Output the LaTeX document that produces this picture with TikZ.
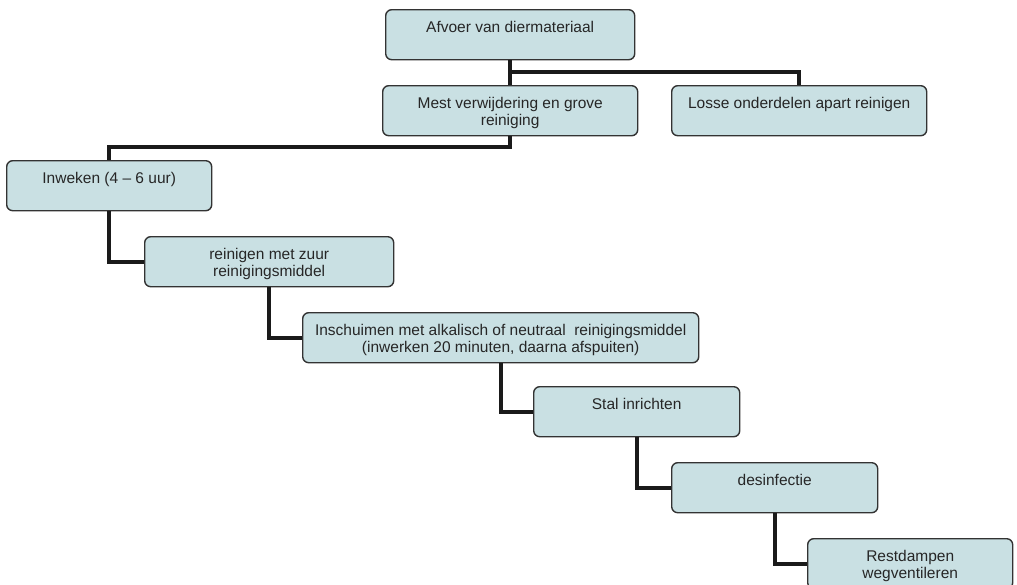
\documentclass[tikz,border=0pt]{standalone}
\usepackage{fontspec}
\setmainfont{Liberation Sans}
\usepackage{tikz}

\definecolor{boxfill}{HTML}{C9E0E3}
\definecolor{boxrand}{HTML}{333333}
\definecolor{lijnkleur}{HTML}{1A1A1A}

\begin{document}
\begin{tikzpicture}[x=1pt, y=-1pt,
  stap/.style={draw=boxrand, fill=boxfill, line width=1.4pt, rounded corners=6pt,
    anchor=north west, minimum height=50pt, inner sep=0pt},
  tekst/.style={anchor=north, align=center, inner sep=0pt, text=black!85,
    font=\fontsize{15.5}{17.5}\selectfont},
  lijn/.style={line width=4pt, lijnkleur}]
  \useasboundingbox (0,0) rectangle (1017,584);
  % boxes
  \node[stap, minimum width=249pt] (afvoer) at (385,9) {};
  \node[stap, minimum width=255pt] (mest) at (382,85) {};
  \node[stap, minimum width=255pt] (losse) at (671,85) {};
  \node[stap, minimum width=205pt] (inweken) at (6,160) {};
  \node[stap, minimum width=249pt] (reinigen) at (144,236) {};
  \node[stap, minimum width=396pt] (schuim) at (302,312) {};
  \node[stap, minimum width=206pt] (stal) at (533,386) {};
  \node[stap, minimum width=206pt] (desinf) at (671,462) {};
  \node[stap, minimum width=205pt] (rest) at (807,538) {};
  % texts
  \node[tekst] (afvoer-t) at ([yshift=-12pt]afvoer.north) {Afvoer van diermateriaal};
  \node[tekst] (mest-t) at ([yshift=-12pt]mest.north) {Mest verwijdering en grove\\reiniging};
  \node[tekst] (losse-t) at ([yshift=-12pt]losse.north) {Losse onderdelen apart reinigen};
  \node[tekst] (inweken-t) at ([yshift=-12pt]inweken.north) {Inweken (4 -- 6 uur)};
  \node[tekst] (reinigen-t) at ([yshift=-12pt]reinigen.north) {reinigen met zuur\\reinigingsmiddel};
  \node[tekst] (schuim-t) at ([yshift=-12pt]schuim.north) {Inschuimen met alkalisch of neutraal\ \ reinigingsmiddel\\(inwerken 20 minuten, daarna afspuiten)};
  \node[tekst] (stal-t) at ([yshift=-12pt]stal.north) {Stal inrichten};
  \node[tekst] (desinf-t) at ([yshift=-12pt]desinf.north) {desinfectie};
  \node[tekst] (rest-t) at ([yshift=-12pt]rest.north) {Restdampen\\wegventileren};
  % connectors
  \draw[lijn] (afvoer.south) -- (mest.north);
  \draw[lijn] (afvoer.south |- 0,72) -| (losse.north);
  \draw[lijn] (mest.south) -- (mest.south |- 0,147) -| (inweken.north);
  \draw[lijn] (inweken.south) |- (reinigen.west);
  \draw[lijn] (reinigen.south) |- (schuim.west);
  \draw[lijn] (schuim.south) |- (stal.west);
  \draw[lijn] (stal.south) |- (desinf.west);
  \draw[lijn] (desinf.south) |- (rest.west);
\end{tikzpicture}
\end{document}
